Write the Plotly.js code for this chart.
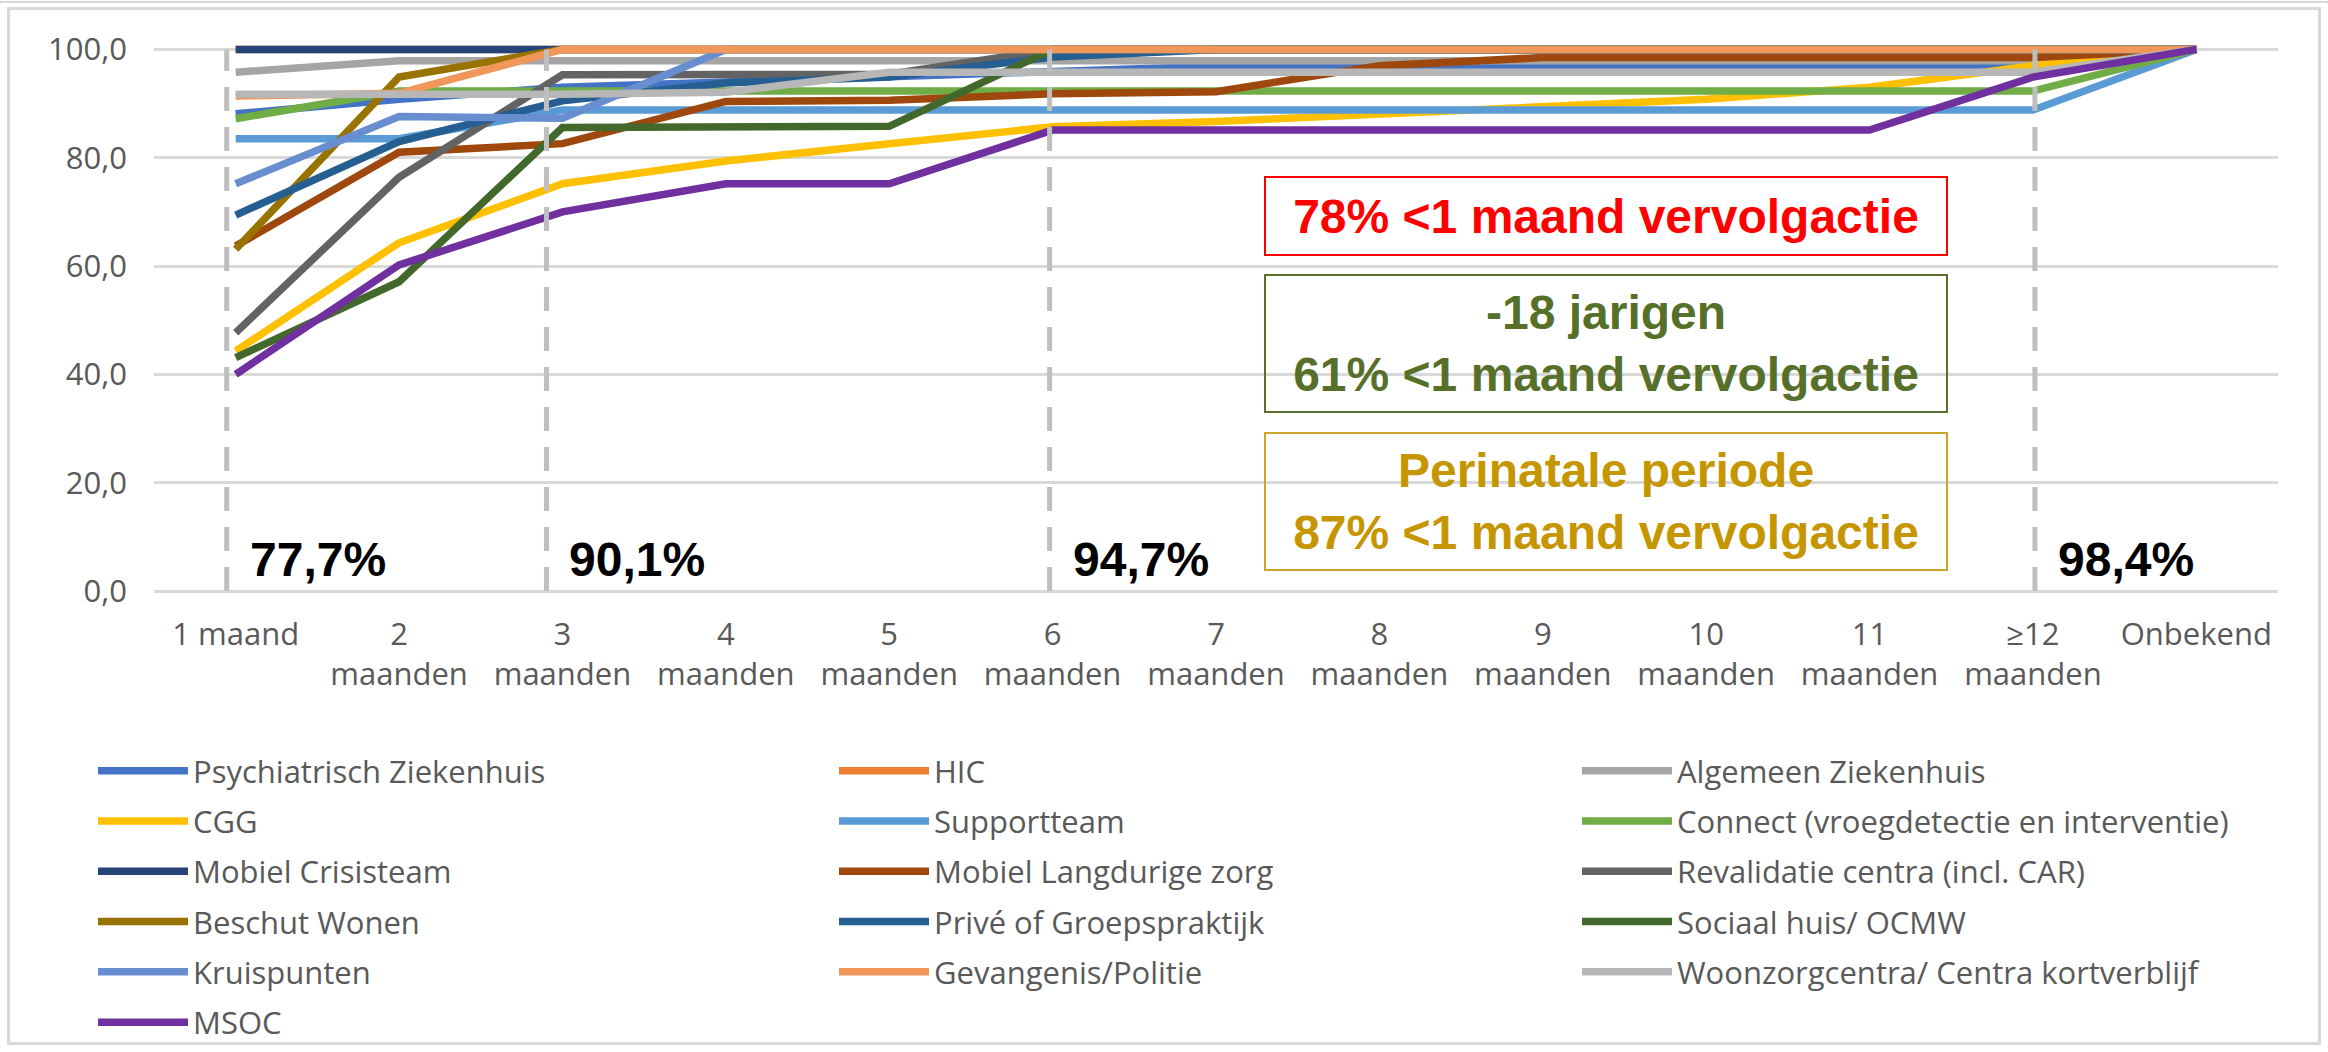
<!DOCTYPE html>
<html>
<head>
<meta charset="utf-8">
<script src="https://cdn.plot.ly/plotly-3.0.1.min.js"></script>
<style>
  html, body { margin: 0; padding: 0; background: #fff; }
  #topline { position: absolute; left: 0; top: 1px; width: 2328px; border-top: 2px solid #d9d9d9; }
  #frame { position: absolute; left: 7px; top: 7px; width: 2308px; height: 1032px; border: 3px solid #d9d9d9; }
  #chart { position: absolute; left: 0; top: 0; width: 2328px; height: 1052px; }
</style>
</head>
<body>
<div id="topline"></div>
<div id="frame"></div>
<div id="chart"></div>
<script>
// categories on the x axis
var categories = ["1 maand", "2<br>maanden", "3<br>maanden", "4<br>maanden", "5<br>maanden", "6<br>maanden",
  "7<br>maanden", "8<br>maanden", "9<br>maanden", "10<br>maanden", "11<br>maanden", "≥12<br>maanden", "Onbekend"];

// cumulative % per sector
var psychiatrischZiekenhuis = [88.1, 90.8, 93.0, 94.0, 95.0, 96.0, 96.9, 96.9, 96.9, 96.9, 96.9, 97.0, 100];
var hic = [100, 100, 100, 100, 100, 100, 100, 100, 100, 100, 100, 100, 100];
var algemeenZiekenhuis = [95.8, 97.9, 97.9, 97.9, 97.9, 97.9, 97.9, 97.9, 97.9, 97.9, 97.9, 97.9, 100];
var cgg = [44.3, 64.3, 75.2, 79.4, 82.6, 85.7, 86.7, 88.0, 89.5, 90.8, 93.0, 97.0, 100];
var supportteam = [83.5, 83.5, 88.8, 88.8, 88.8, 88.8, 88.8, 88.8, 88.8, 88.8, 88.8, 88.8, 100];
var connect = [87.2, 92.3, 92.3, 92.3, 92.3, 92.3, 92.3, 92.3, 92.3, 92.3, 92.3, 92.3, 100];
var mobielCrisisteam = [100, 100, 100, 100, 100, 100, 100, 100, 100, 100, 100, 100, 100];
var mobielLangdurigeZorg = [63.7, 81.0, 82.6, 90.4, 90.6, 91.8, 92.2, 97.0, 98.5, 98.5, 98.5, 98.5, 100];
var revalidatieCentra = [47.7, 76.4, 95.3, 95.3, 95.4, 100, 100, 100, 100, 100, 100, 100, 100];
var beschutWonen = [63.1, 94.9, 100, 100, 100, 100, 100, 100, 100, 100, 100, 100, 100];
var priveGroepspraktijk = [69.4, 83.0, 90.5, 93.8, 94.9, 98.6, 100, 100, 100, 100, 100, 100, 100];
var sociaalHuis = [43.1, 57.1, 85.6, 85.8, 85.8, 100, 100, 100, 100, 100, 100, 100, 100];
var kruispunten = [75.2, 87.6, 87.3, 100, 100, 100, 100, 100, 100, 100, 100, 100, 100];
var gevangenisPolitie = [91.4, 91.9, 100, 100, 100, 100, 100, 100, 100, 100, 100, 100, 100];
var woonzorgcentra = [91.7, 91.7, 91.7, 92.1, 95.8, 95.8, 95.8, 95.8, 95.8, 95.8, 95.8, 95.8, 100];
var msoc = [40.0, 60.2, 70.0, 75.2, 75.2, 85.1, 85.1, 85.1, 85.1, 85.1, 85.1, 94.9, 100];

var seriesNames = ["Psychiatrisch Ziekenhuis", "HIC", "Algemeen Ziekenhuis", "CGG", "Supportteam",
  "Connect (vroegdetectie en interventie)", "Mobiel Crisisteam", "Mobiel Langdurige zorg",
  "Revalidatie centra (incl. CAR)", "Beschut Wonen", "Privé of Groepspraktijk", "Sociaal huis/ OCMW",
  "Kruispunten", "Gevangenis/Politie", "Woonzorgcentra/ Centra kortverblijf", "MSOC"];
var seriesValues = [psychiatrischZiekenhuis, hic, algemeenZiekenhuis, cgg, supportteam, connect,
  mobielCrisisteam, mobielLangdurigeZorg, revalidatieCentra, beschutWonen, priveGroepspraktijk,
  sociaalHuis, kruispunten, gevangenisPolitie, woonzorgcentra, msoc];
var seriesColors = ["#4472C4", "#ED7D31", "#A5A5A5", "#FFC000", "#5B9BD5", "#70AD47", "#264478", "#9E480E",
  "#636363", "#997300", "#255E91", "#43682B", "#698ED0", "#F1975A", "#B7B7B7", "#7030A0"];

// dashed markers + cumulative labels
var markerCats = [0, 2, 5, 11];
var markerShift = [-9, -16, -3, 2];
var markerLabels = ["77,7%", "90,1%", "94,7%", "98,4%"];

var legendNames = ["legend", "legend2", "legend3"];

var data = seriesNames.map(function(name, i) {
  return {
    x: categories,
    y: seriesValues[i],
    name: name,
    type: "scatter",
    mode: "lines",
    line: {color: seriesColors[i], width: 7.5},
    legend: legendNames[i % 3],
    legendgroup: name,
    cliponaxis: false
  };
});

var textFont = {family: "Open Sans, sans-serif", size: 31, color: "#595959"};
var boldFont = "Liberation Sans, Arial, sans-serif";

function legendAt(px) {
  return {
    orientation: "v", xref: "container", yref: "container",
    x: px / 2328, y: 1 - 744 / 1052, xanchor: "left", yanchor: "top",
    font: textFont, tracegroupgap: 7, itemwidth: 90, bgcolor: "rgba(0,0,0,0)"
  };
}

var shapes = markerCats.map(function(c, i) {
  return {
    type: "line", xref: "x", yref: "y", xsizemode: "pixel", xanchor: c,
    x0: markerShift[i], x1: markerShift[i], y0: 0, y1: 100,
    line: {color: "#BFBFBF", width: 5, dash: "24px,16px"}
  };
});

var annotations = markerCats.map(function(c, i) {
  return {
    x: c, y: 5.9, xref: "x", yref: "y", xanchor: "left", yanchor: "middle",
    xshift: markerShift[i] + 21, showarrow: false, text: markerLabels[i],
    font: {family: boldFont, size: 48, color: "#000", weight: "bold"}
  };
});

annotations.push(
  {x: 8.39, y: 69.2, xref: "x", yref: "y", showarrow: false, width: 680, height: 76, borderpad: 0,
   text: "78% &lt;1 maand vervolgactie", bordercolor: "#FF0000", borderwidth: 2,
   font: {family: boldFont, size: 48, color: "#FF0000", weight: "bold"}},
  {x: 8.39, y: 45.65, xref: "x", yref: "y", showarrow: false, width: 680, height: 135, borderpad: 0,
   text: "-18 jarigen<br>61% &lt;1 maand vervolgactie", bordercolor: "#5A7030", borderwidth: 2,
   font: {family: boldFont, size: 48, color: "#56702A", weight: "bold"}},
  {x: 8.39, y: 16.55, xref: "x", yref: "y", showarrow: false, width: 680, height: 135, borderpad: 0,
   text: "Perinatale periode<br>87% &lt;1 maand vervolgactie", bordercolor: "#CDA52C", borderwidth: 2,
   font: {family: boldFont, size: 48, color: "#C59600", weight: "bold"}}
);

var layout = {
  width: 2328, height: 1052,
  margin: {l: 154, r: 50, t: 44, b: 461, autoexpand: false},
  paper_bgcolor: "rgba(0,0,0,0)", plot_bgcolor: "rgba(0,0,0,0)",
  separators: ",.",
  font: textFont,
  xaxis: {
    type: "category", range: [-0.5, 12.5], showgrid: false, ticks: "", tickangle: 0, automargin: false,
    tickfont: textFont, ticklabelstandoff: 22, showline: false, zeroline: false
  },
  yaxis: {
    range: [0, 101], dtick: 20, tick0: 0, tickformat: ".1f", ticks: "", automargin: false,
    gridcolor: "#D9D9D9", gridwidth: 3, zeroline: true, zerolinecolor: "#D9D9D9", zerolinewidth: 3,
    tickfont: textFont, ticklabelstandoff: 26
  },
  legend: legendAt(93),
  legend2: legendAt(834),
  legend3: legendAt(1577),
  shapes: shapes,
  annotations: annotations,
  showlegend: true
};

Plotly.newPlot("chart", data, layout, {displayModeBar: false, staticPlot: true});
</script>
</body>
</html>
